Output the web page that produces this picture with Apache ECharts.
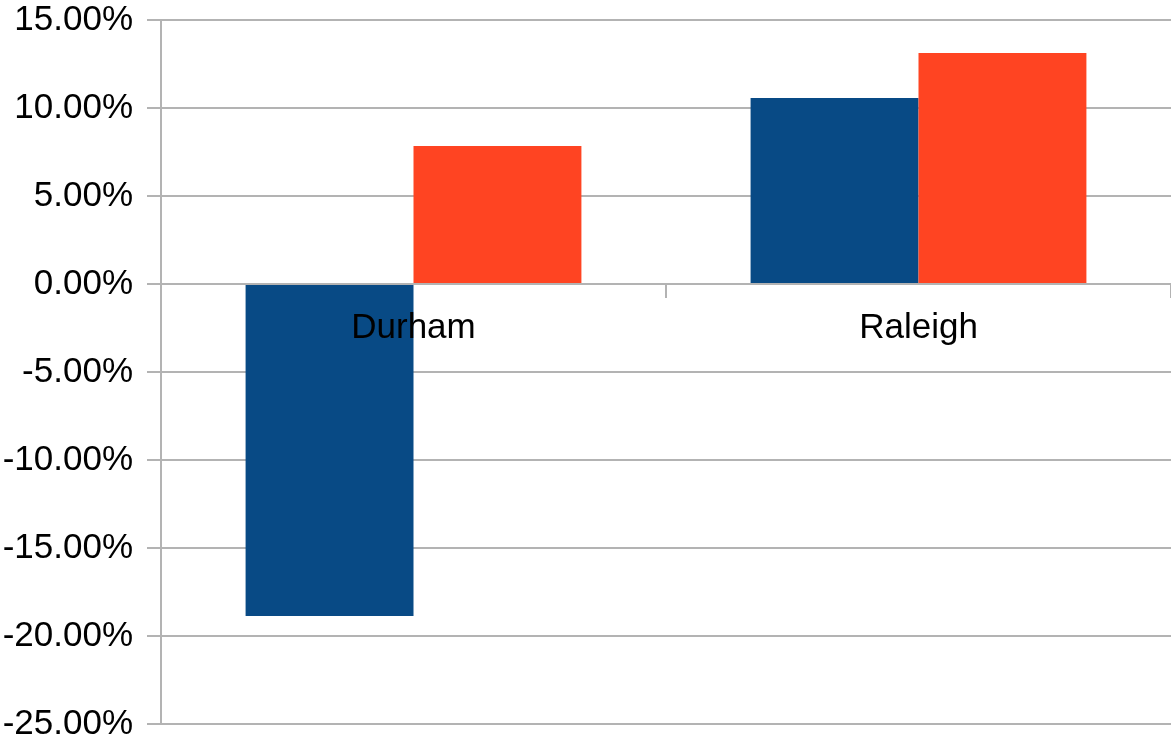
<!DOCTYPE html>
<html><head><meta charset="utf-8">
<script src="https://cdn.jsdelivr.net/npm/echarts@6/dist/echarts.min.js"></script>
<style>html,body{margin:0;padding:0;background:#fff}#c{width:1171px;height:746px}</style>
</head><body><div id="c"></div>
<script>
const categories = ['Durham', 'Raleigh'];
const seriesA = [-18.86, 10.57];
const seriesB = [7.84, 13.12];
const chart = echarts.init(document.getElementById('c'));
chart.setOption({
  animation: false,
  grid: { left: 161, right: 0, top: 20, bottom: 22, containLabel: false, outerBoundsMode: 'none' },
  xAxis: {
    type: 'category', data: categories, z: 5,
    axisLine: { onZero: true, lineStyle: { color: '#b3b3b3', width: 2 } },
    axisTick: { show: true, length: 14, lineStyle: { color: '#b3b3b3', width: 2 } },
    axisLabel: { color: '#000', fontSize: 35, fontFamily: 'Liberation Sans', margin: -413 }
  },
  yAxis: {
    type: 'value', min: -25, max: 15, interval: 5,
    axisLine: { show: true, lineStyle: { color: '#b3b3b3', width: 2 } },
    axisTick: { show: true, length: 14, lineStyle: { color: '#b3b3b3', width: 2 } },
    splitLine: { lineStyle: { color: '#b3b3b3', width: 2 } },
    axisLabel: { color: '#000', fontSize: 35, fontFamily: 'Liberation Sans', margin: 28,
      formatter: v => v.toFixed(2) + '%' }
  },
  series: [
    { type: 'bar', data: seriesA, barGap: '0%', barCategoryGap: '33.5%', itemStyle: { color: '#084a85' } },
    { type: 'bar', data: seriesB, barGap: '0%', barCategoryGap: '33.5%', itemStyle: { color: '#ff4422' } }
  ]
});
</script></body></html>
